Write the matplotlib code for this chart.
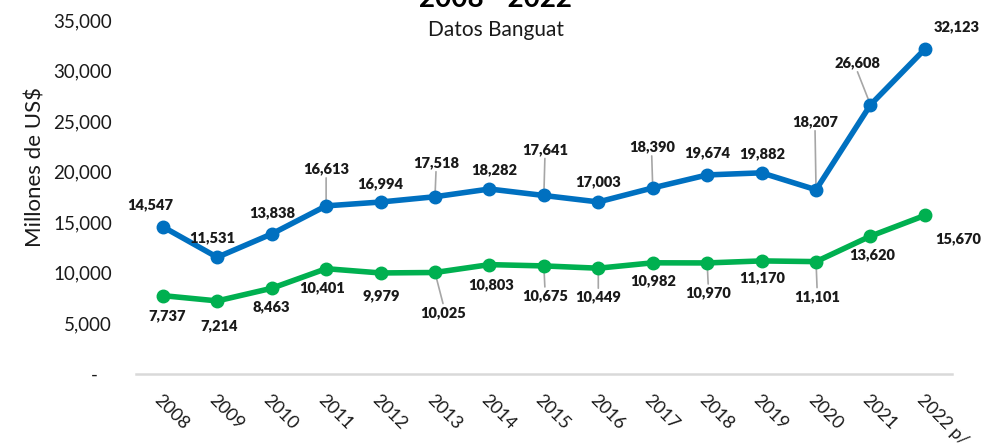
import matplotlib
matplotlib.use("Agg")
import matplotlib.pyplot as plt
from matplotlib.ticker import FuncFormatter

plt.rcParams['font.family'] = ['Lato', 'DejaVu Sans']

# data
years = ['2008', '2009', '2010', '2011', '2012', '2013', '2014', '2015',
         '2016', '2017', '2018', '2019', '2020', '2021', '2022 p/']
serie_azul = [14547, 11531, 13838, 16613, 16994, 17518, 18282, 17641,
              17003, 18390, 19674, 19882, 18207, 26608, 32123]
serie_verde = [7737, 7214, 8463, 10401, 9979, 10025, 10803, 10675,
               10449, 10982, 10970, 11170, 11101, 13620, 15670]
y_ticks = [0, 5000, 10000, 15000, 20000, 25000, 30000, 35000]

# label offsets in pixels (dx, dy) from each point, and which ones get a leader line
off_azul = [(-13, 22), (-5, 20), (1, 21), (0, 37), (0, 18), (1, 34), (5, 19), (1, 46),
            (0, 20), (-1, 41), (0, 22), (1, 19), (-1, 68), (-13, 42), (32, 22)]
lead_azul = [3, 5, 7, 9, 12, 13]
off_verde = [(4, -20), (2, -25), (0, -18), (-4, -19), (1, -23), (8, -40), (2, -20), (1, -30),
             (0, -29), (0, -18), (1, -30), (1, -17), (1, -35), (2, -19), (33, -23)]
lead_verde = [5, 7, 8, 10, 12]

AZUL = '#0070C0'
VERDE = '#00B050'

fig = plt.figure(figsize=(9.97, 4.44), dpi=100)
ax = fig.add_axes([0.136, 0.158, 0.819, 0.797])

x = list(range(len(years)))
ax.plot(x, serie_azul, color=AZUL, lw=4, marker='o', ms=9, solid_capstyle='round', zorder=3)
ax.plot(x, serie_verde, color=VERDE, lw=4, marker='o', ms=9, solid_capstyle='round', zorder=3)


def etiquetas(values, offsets, leaders):
    for i, (v, (dx, dy)) in enumerate(zip(values, offsets)):
        ax.annotate(f'{v:,}', (i, v), xytext=(dx, dy), textcoords='offset pixels',
                    ha='center', va='center', fontsize=10.5, fontweight='heavy', color='#1a1a1a')
        if i in leaders:
            ax.annotate('', (i, v), xytext=(dx, dy - 9 if dy > 0 else dy + 9),
                        textcoords='offset pixels',
                        arrowprops=dict(arrowstyle='-', color='#A6A6A6', lw=1.2,
                                        shrinkA=0, shrinkB=0), zorder=2)


etiquetas(serie_azul, off_azul, lead_azul)
etiquetas(serie_verde, off_verde, lead_verde)

ax.set_xlim(-0.5, len(years) - 0.5)
ax.set_ylim(0, 35000)
ax.set_yticks(y_ticks)
ax.yaxis.set_major_formatter(FuncFormatter(lambda v, p: '-   ' if v == 0 else f'{v:,.0f}'))
ax.set_xticks(x)
ax.set_xticklabels(years, rotation=-45, ha='left', va='top', rotation_mode='anchor')
ax.tick_params(axis='y', length=0, pad=17, labelsize=13.5, labelcolor='#1a1a1a')
ax.tick_params(axis='x', length=0, pad=13, labelsize=13, labelcolor='#1a1a1a')

for s in ['top', 'right', 'left']:
    ax.spines[s].set_visible(False)
ax.spines['bottom'].set_color('#D9D9D9')
ax.spines['bottom'].set_linewidth(1.8)

ax.set_ylabel('Millones de US$', fontsize=16, color='#1a1a1a')
ax.yaxis.set_label_coords(-0.11, 0.585)

fig.text(0.497, 0.984, '2008 - 2022', ha='center', va='baseline', fontsize=20, fontweight='bold')
fig.text(0.497, 0.932, 'Datos Banguat', ha='center', va='center', fontsize=15, color='#1a1a1a')

fig.savefig('out.png', dpi=100)
